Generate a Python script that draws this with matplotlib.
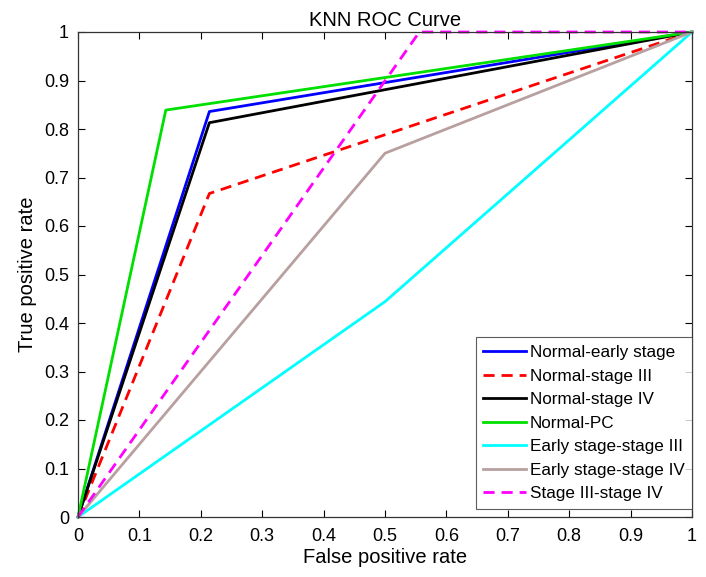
import matplotlib
matplotlib.use("Agg")
import matplotlib.pyplot as plt

plt.rcParams['font.family'] = ['Liberation Sans', 'DejaVu Sans']

labels = ["Normal-early stage", "Normal-stage III", "Normal-stage IV", "Normal-PC",
          "Early stage-stage III", "Early stage-stage IV", "Stage III-stage IV"]
fpr = [
    [0, 0.214, 1],
    [0, 0.214, 1],
    [0, 0.214, 1],
    [0, 0.143, 1],
    [0, 0.5, 1],
    [0, 0.5, 1],
    [0, 0.556, 1],
]
tpr = [
    [0, 0.836, 1],
    [0, 0.667, 1],
    [0, 0.813, 1],
    [0, 0.839, 1],
    [0, 0.444, 1],
    [0, 0.75, 1],
    [0, 1.0, 1],
]
colors = ["#0000ff", "#ff0000", "#000000", "#00e000", "#00ffff", "#b8a0a0", "#ff00ff"]
styles = ["-", "--", "-", "-", "-", "-", "--"]
ticks = [0, 0.1, 0.2, 0.3, 0.4, 0.5, 0.6, 0.7, 0.8, 0.9, 1]
tick_labels = ["0", "0.1", "0.2", "0.3", "0.4", "0.5", "0.6", "0.7", "0.8", "0.9", "1"]

fig = plt.figure(figsize=(7.06, 5.77), dpi=100)
ax = fig.add_axes([78/706, 60/577, 614/706, 485/577])

for x, y, c, s, l in zip(fpr, tpr, colors, styles, labels):
    ax.plot(x, y, color=c, linestyle=s, linewidth=2, label=l,
            dashes=(4, 2.5) if s == "--" else (None, None), clip_on=False)

ax.set_xlim(0, 1)
ax.set_ylim(0, 1)
ax.set_xticks(ticks)
ax.set_xticklabels(tick_labels)
ax.set_yticks(ticks)
ax.set_yticklabels(tick_labels)
ax.tick_params(direction='in', top=True, right=True, labelsize=13, length=5, width=0.8)
ax.tick_params(axis='x', pad=8)
ax.tick_params(axis='y', pad=6.5)
for sp in ax.spines.values():
    sp.set_linewidth(0.9)
    sp.set_color('#333333')
ax.set_xlabel("False positive rate", fontsize=14.5, labelpad=2)
ax.set_ylabel("True positive rate", fontsize=14.5, labelpad=5)
ax.set_title("KNN ROC Curve", fontsize=14.5, pad=4)

leg = ax.legend(loc='lower right', bbox_to_anchor=(1.0, 8/485), fontsize=12.3,
                frameon=True, fancybox=False, edgecolor='#333333', borderaxespad=0,
                handlelength=2.5, handletextpad=0.2, labelspacing=0.5, borderpad=0.45)
leg.get_frame().set_linewidth(0.8)

fig.savefig("out.png", dpi=100)
